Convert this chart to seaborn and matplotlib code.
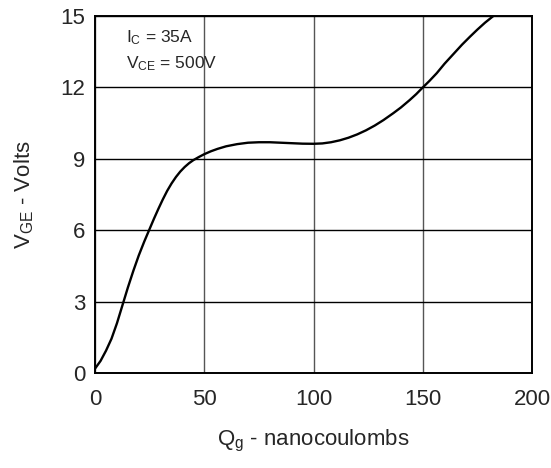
import numpy as np
import pandas as pd
import matplotlib
matplotlib.use('Agg')
import matplotlib.pyplot as plt
from matplotlib.ticker import MultipleLocator
import seaborn as sns

# Gate charge curve
qg = [0, 2.5, 5, 7.5, 10, 12.5, 15, 17.5, 20, 22.5, 25, 27, 29, 31, 33, 35,
      37, 39, 41, 43, 45, 47.5, 50, 53, 56, 60, 65, 70, 75, 80, 85, 90, 95,
      100, 104, 108, 112, 116, 120, 124, 128, 132, 136.5, 140, 144, 147, 150,
      153, 156.4, 160, 164, 168, 171.6, 175, 178.5, 182.3]
vge = [0.2, 0.52, 0.95, 1.45, 2.1, 2.85, 3.6, 4.3, 4.95, 5.53, 6.07, 6.5,
       6.91, 7.3, 7.66, 7.97, 8.24, 8.47, 8.66, 8.82, 8.95, 9.08, 9.2, 9.32,
       9.42, 9.53, 9.62, 9.68, 9.70, 9.70, 9.68, 9.66, 9.64, 9.635, 9.65,
       9.70, 9.78, 9.89, 10.03, 10.2, 10.4, 10.63, 10.92, 11.16, 11.47, 11.72,
       12.0, 12.27, 12.6, 13.0, 13.4, 13.8, 14.13, 14.43, 14.72, 15.0]

x_ticks = [0, 50, 100, 150, 200]
y_ticks = [0, 3, 6, 9, 12, 15]
conditions = [r'$\mathregular{I_C}$ = 35A', r'$\mathregular{V_{CE}}$ = 500V']

sns.set_style('white')
plt.rcParams['font.family'] = ['Liberation Sans', 'DejaVu Sans']
plt.rcParams['mathtext.fontset'] = 'custom'
plt.rcParams['mathtext.rm'] = 'Liberation Sans'

df = pd.DataFrame({'Qg': qg, 'VGE': vge})

fig = plt.figure(figsize=(5.51, 4.68), dpi=100)
ax = fig.add_axes([0.1726, 0.2024, 0.7929, 0.7634])

sns.lineplot(data=df, x='Qg', y='VGE', ax=ax, color='black', linewidth=1.7)

ax.set_xlim(0, 200)
ax.set_ylim(0, 15)
ax.set_xticks(x_ticks)
ax.set_yticks(y_ticks)
ax.xaxis.set_minor_locator(MultipleLocator(10))
ax.yaxis.set_minor_locator(MultipleLocator(1))

ax.tick_params(axis='both', which='both', direction='in', labelsize=16,
               top=False, right=False)
ax.tick_params(axis='x', which='major', length=0, pad=11)
ax.tick_params(axis='y', which='major', length=0, pad=7)
ax.tick_params(which='minor', length=5, width=0.8, color='black')
ax.xaxis.grid(True, color='#555555', linewidth=1.0)
ax.yaxis.grid(True, color='black', linewidth=1.0)

for s in ax.spines.values():
    s.set_color('black')
    s.set_linewidth(1.4)

ax.set_xlabel(r'$\mathregular{Q_g}$ - nanocoulombs', fontsize=16, labelpad=13)
ax.set_ylabel(r'$\mathregular{V_{GE}}$ - Volts', fontsize=16, labelpad=18)

ax.text(14, 14.1, conditions[0], fontsize=12.5, va='center', ha='left')
ax.text(14, 13.0, conditions[1], fontsize=12.5, va='center', ha='left')

fig.savefig('out.png', dpi=100)
